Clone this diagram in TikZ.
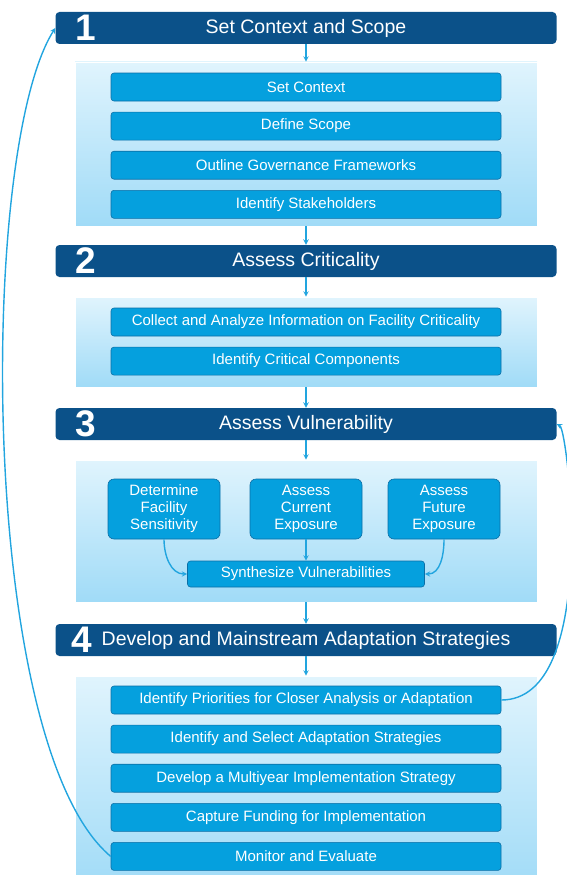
\documentclass[tikz,border=0pt]{standalone}
\usepackage{fontspec}
\setmainfont{Liberation Sans}
\usetikzlibrary{positioning,shadows}
\definecolor{hdrblue}{HTML}{0B5189}
\definecolor{taskblue}{HTML}{05A0DE}
\definecolor{taskedge}{HTML}{0B6FA6}
\definecolor{paneltop}{HTML}{E0F4FD}
\definecolor{panelbot}{HTML}{A0DBF7}
\definecolor{linkblue}{HTML}{22A5DF}
\begin{document}
\begin{tikzpicture}[
    x=1pt, y=1pt,
    node distance=10.5pt,
    phase/.style={rectangle, rounded corners=4pt, fill=hdrblue, text=white, minimum width=501pt, minimum height=32pt, inner sep=0pt, font=\fontsize{19.5}{22}\selectfont},
    num/.style={text=white, inner sep=0pt, font=\fontsize{37}{37}\selectfont\bfseries},
    panel/.style={rectangle, top color=paneltop, bottom color=panelbot, draw=white, line width=0.6pt, minimum width=462pt, drop shadow={shadow xshift=1.2pt, shadow yshift=-1.2pt, opacity=0.2}},
    task/.style={rectangle, rounded corners=3pt, fill=taskblue, draw=taskedge, line width=0.6pt, text=white, minimum width=390pt, minimum height=28pt, inner sep=0pt, font=\fontsize{15}{17}\selectfont},
    subtask/.style={task, minimum width=112pt, minimum height=60pt, rounded corners=6pt, align=center},
    arrow/.style={->, >=stealth, line width=1.4pt, draw=linkblue}
]
\useasboundingbox (0,0) rectangle (566,-875);

% Phase headers
\node[phase] (h1) at (306,-28) {Set Context and Scope};
\node[phase] (h2) at (306,-261) {Assess Criticality};
\node[phase] (h3) at (306,-424) {Assess Vulnerability};
\node[phase] (h4) at (306,-640) {Develop and Mainstream Adaptation Strategies};

\node[num] (n1) at ([xshift=30pt]h1.west) {1};
\node[num] (n2) at ([xshift=30pt]h2.west) {2};
\node[num] (n3) at ([xshift=30pt]h3.west) {3};
\node[num] (n4) at ([xshift=26pt]h4.west) {4};

% Panels
\node[panel, minimum height=164pt] (p1) at (306,-144) {};
\node[panel, minimum height=90pt] (p2) at (306,-342) {};
\node[panel, minimum height=142pt] (p3) at (306,-531) {};
\node[panel, minimum height=214pt] (p4) at (306,-783) {};

% Phase 1 tasks
\node[task] (context) at (306,-87) {Set Context};
\node[task, below=of context] (scope) {Define Scope};
\node[task, below=of scope] (govern) {Outline Governance Frameworks};
\node[task, below=of govern] (stake) {Identify Stakeholders};

% Phase 2 tasks
\node[task] (collect) at (306,-322) {Collect and Analyze Information on Facility Criticality};
\node[task, below=of collect] (critcomp) {Identify Critical Components};

% Phase 3 tasks
\node[subtask] (sens) at (164,-509) {Determine\\Facility\\Sensitivity};
\node[subtask] (curexp) at (306,-509) {Assess\\Current\\Exposure};
\node[subtask] (futexp) at (444,-509) {Assess\\Future\\Exposure};
\node[task, minimum width=237pt, minimum height=26pt] (synth) at (306,-574) {Synthesize Vulnerabilities};

% Phase 4 tasks
\node[task] (prio) at (306,-700) {Identify Priorities for Closer Analysis or Adaptation};
\node[task, below=of prio] (select) {Identify and Select Adaptation Strategies};
\node[task, below=of select] (multi) {Develop a Multiyear Implementation Strategy};
\node[task, below=of multi] (funding) {Capture Funding for Implementation};
\node[task, below=of funding] (monitor) {Monitor and Evaluate};

% Arrows down the chain
\draw[arrow] (h1) -- (p1);
\draw[arrow] (p1) -- (h2);
\draw[arrow] (h2) -- (p2);
\draw[arrow] (p2) -- (h3);
\draw[arrow] (h3) -- (p3);
\draw[arrow] (p3) -- (h4);
\draw[arrow] (h4) -- (p4);

\draw[arrow] (sens.south) to[out=-90, in=180] (synth.west);
\draw[arrow] (curexp) -- (synth);
\draw[arrow] (futexp.south) to[out=-90, in=0] (synth.east);

% Feedback loops
\draw[arrow] (monitor.west) .. controls (-22,-745) and (-22,-150) .. (h1.west);
\draw[arrow] (prio.east) .. controls (600,-700) and (568,-430) .. (h3.east);

\end{tikzpicture}
\end{document}
